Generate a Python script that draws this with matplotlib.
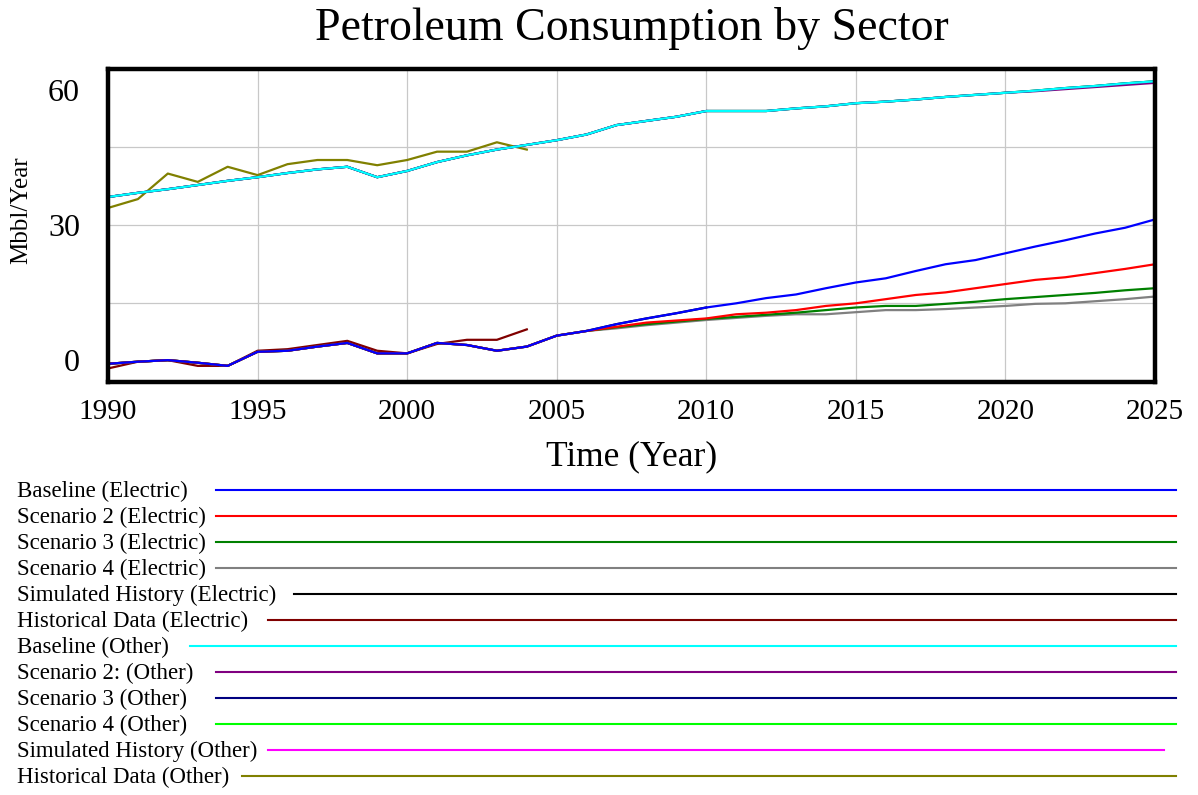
import matplotlib.pyplot as plt
import numpy as np

plt.rcParams['font.family'] = ['Liberation Serif', 'DejaVu Serif']

# %% data (Mbbl/Year)
years = np.arange(1990, 2026)
hist_years = np.arange(1990, 2005)
sim_years = np.arange(1990, 2011)

baseline_electric = [3.4, 3.8, 4.1, 3.6, 3.0, 5.7, 5.9, 6.7, 7.4, 5.4,
                     5.4, 7.4, 7.0, 5.9, 6.7, 8.8, 9.7, 11.0, 12.1, 13.1,
                     14.2, 15.0, 16.0, 16.7, 17.9, 19.0, 19.8, 21.2, 22.5, 23.3,
                     24.6, 25.9, 27.1, 28.4, 29.5, 31.1]
scenario2_electric = [3.4, 3.8, 4.1, 3.6, 3.0, 5.7, 5.9, 6.7, 7.4, 5.4,
                      5.4, 7.4, 7.0, 5.9, 6.7, 8.8, 9.7, 10.5, 11.3, 11.7,
                      12.1, 12.9, 13.2, 13.7, 14.5, 15.0, 15.8, 16.6, 17.1, 17.9,
                      18.7, 19.5, 20.0, 20.8, 21.6, 22.5]
scenario3_electric = [3.4, 3.8, 4.1, 3.6, 3.0, 5.7, 5.9, 6.7, 7.4, 5.4,
                      5.4, 7.4, 7.0, 5.9, 6.7, 8.8, 9.7, 10.4, 11.0, 11.5,
                      12.0, 12.4, 12.8, 13.2, 13.7, 14.2, 14.5, 14.5, 14.9, 15.3,
                      15.8, 16.2, 16.6, 17.0, 17.5, 17.9]
scenario4_electric = [3.4, 3.8, 4.1, 3.6, 3.0, 5.7, 5.9, 6.7, 7.4, 5.4,
                      5.4, 7.4, 7.0, 5.9, 6.7, 8.8, 9.7, 10.2, 10.8, 11.3,
                      11.8, 12.2, 12.6, 12.9, 12.9, 13.3, 13.7, 13.7, 13.9, 14.2,
                      14.5, 14.9, 15.0, 15.4, 15.8, 16.3]
sim_history_electric = baseline_electric[:21]
hist_electric = [2.5, 3.8, 4.1, 3.0, 3.0, 5.9, 6.2, 7.0, 7.8, 5.9,
                 5.4, 7.2, 8.0, 8.0, 10.0]

baseline_other = [35.4, 36.2, 36.9, 37.7, 38.5, 39.2, 40.0, 40.7, 41.2, 39.2,
                  40.4, 42.1, 43.4, 44.5, 45.4, 46.3, 47.4, 49.2, 50.0, 50.8,
                  51.9, 51.9, 51.9, 52.4, 52.8, 53.4, 53.7, 54.1, 54.6, 55.0,
                  55.4, 55.8, 56.3, 56.7, 57.2, 57.6]
scenario2_other = [35.4, 36.2, 36.9, 37.7, 38.5, 39.2, 40.0, 40.7, 41.2, 39.2,
                   40.4, 42.1, 43.4, 44.5, 45.4, 46.3, 47.4, 49.2, 50.0, 50.8,
                   51.9, 51.9, 51.9, 52.4, 52.8, 53.4, 53.7, 54.1, 54.6, 55.0,
                   55.4, 55.7, 56.1, 56.5, 56.9, 57.3]
scenario3_other = baseline_other
scenario4_other = baseline_other
sim_history_other = baseline_other[:21]
hist_other = [33.3, 35.0, 39.9, 38.3, 41.2, 39.6, 41.7, 42.5, 42.5, 41.5,
              42.5, 44.1, 44.1, 45.9, 44.5]

y_tick_labels = ['0', '30', '60']

names = ['Baseline (Electric)', 'Scenario 2 (Electric)', 'Scenario 3 (Electric)',
         'Scenario 4 (Electric)', 'Simulated History (Electric)',
         'Historical Data (Electric)', 'Baseline (Other)', 'Scenario 2: (Other)',
         'Scenario 3 (Other)', 'Scenario 4 (Other)', 'Simulated History (Other)',
         'Historical Data (Other)']
colors = ['#0000ff', '#ff0000', '#008000', '#808080', '#000000', '#800000',
          '#00ffff', '#800080', '#000080', '#00ff00', '#ff00ff', '#808000']
series = [(years, baseline_electric), (years, scenario2_electric),
          (years, scenario3_electric), (years, scenario4_electric),
          (sim_years, sim_history_electric), (hist_years, hist_electric),
          (years, baseline_other), (years, scenario2_other),
          (years, scenario3_other), (years, scenario4_other),
          (sim_years, sim_history_other), (hist_years, hist_other)]

# %% figure
W, H = 1198, 795
fig = plt.figure(figsize=(W / 100, H / 100), dpi=100)

ax = fig.add_axes([108 / W, 1 - 381.5 / H, (1155 - 108) / W, (381.5 - 68.8) / H])
# first series sits on top, like the original tool
for i, ((x, y), c) in enumerate(zip(series, colors)):
    ax.plot(x, y, color=c, lw=1.6, zorder=20 - i)

ax.set_xlim(1990, 2025)
ax.set_ylim(0, 60)
ax.set_xticks(np.arange(1990, 2026, 5))
ax.set_yticks([0, 15, 30, 45, 60])
ax.set_yticklabels([])
ax.grid(True, color='#c8c8c8', lw=0.9)
ax.tick_params(length=0, labelsize=21)
ax.tick_params(axis='x', pad=12.5)
for s in ax.spines.values():
    s.set_linewidth(3.2)
    s.set_zorder(30)

# y labels: top one pulled down, bottom one pushed up (as in the original)
for lab, dy in zip(y_tick_labels, [18, -3.5, -24.5]):
    ax.annotate(lab, xy=(0, float(lab)), xycoords=('axes fraction', 'data'),
                xytext=(-28, dy), textcoords='offset pixels',
                ha='right', va='center', fontsize=23)

ax.set_xlabel('Time (Year)', fontsize=25.5, labelpad=11)
ax.set_ylabel('Mbbl/Year', fontsize=18)
ax.yaxis.set_label_coords(-0.072, 0.547)
ax.set_title('Petroleum Consumption by Sector', fontsize=33, pad=21)

# %% legend rows below the chart
lax = fig.add_axes([0, 0, 1, 1], zorder=-1)
lax.set_xlim(0, W)
lax.set_ylim(H, 0)
lax.axis('off')

texts = []
for i, name in enumerate(names):
    texts.append(lax.text(17, 491 + 26 * i, name, fontsize=16.5,
                          ha='left', va='center'))
fig.canvas.draw()
renderer = fig.canvas.get_renderer()
for i, (t, c) in enumerate(zip(texts, colors)):
    x_end = lax.transData.inverted().transform((t.get_window_extent(renderer).x1, 0))[0]
    start = 190 + 26 * np.ceil((x_end + 4 - 190) / 26)
    stop = 1164 if i == 10 else 1176
    lax.plot([start, stop], [490 + 26 * i] * 2, color=c, lw=1.5)

fig.savefig('out.png', dpi=100)
